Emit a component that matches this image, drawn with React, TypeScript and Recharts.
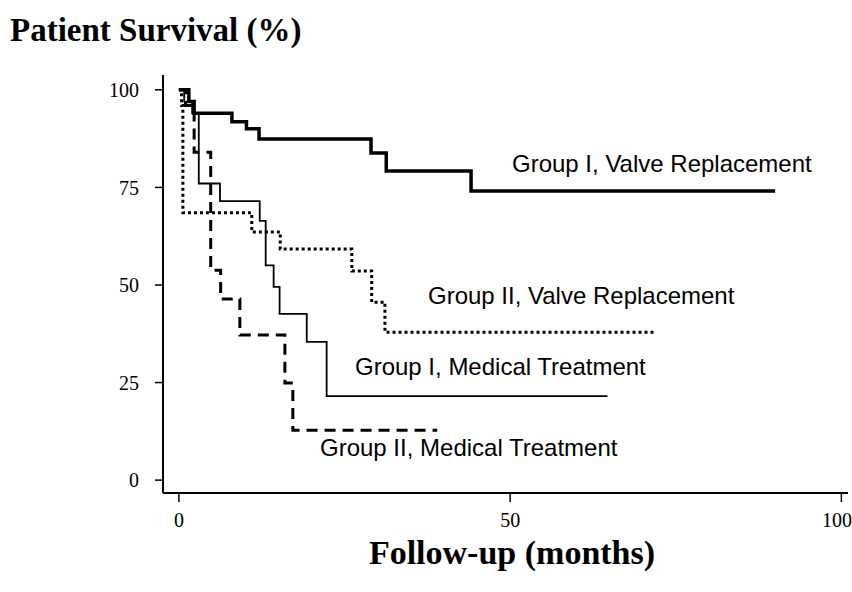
import { Line, LineChart, XAxis, YAxis } from "recharts";

// Kaplan-Meier steps (months, survival %)
const g1ValveMonths = [0, 1.5, 2.3, 8, 10.2, 12.1, 29, 31.3, 44.1, 90];
const g1ValveSurvival = [100, 97, 94, 91.8, 90, 87.4, 83.8, 79.2, 74.1, 74.1];

const g1MedMonths = [0, 0.8, 2, 3, 6.2, 12.2, 13.1, 14.3, 15.2, 19.3, 22.3, 64.7];
const g1MedSurvival = [100, 97, 94, 76, 71.5, 66.4, 55, 49.5, 42.6, 35.4, 21.5, 21.5];

const g2ValveMonths = [0, 0.4, 0.6, 11, 15.3, 26.1, 29.1, 31.1, 71.9];
const g2ValveSurvival = [100, 96, 68.5, 63.6, 59.2, 53.6, 45.6, 37.9, 37.9];

const g2MedMonths = [0, 1, 2.3, 4.8, 6.3, 9.2, 16, 17.2, 39];
const g2MedSurvival = [100, 96, 84, 53.8, 46.4, 37.2, 24.9, 12.8, 12.8];

const xTicks = [0, 50, 100];
const yTicks = [0, 25, 50, 75, 100];

const toRows = (months: number[], survival: number[]) =>
  months.map((m, i) => ({ m, s: survival[i] }));

const series = [
  { key: "g1v", data: toRows(g1ValveMonths, g1ValveSurvival), width: 3.5, dash: undefined },
  { key: "g1m", data: toRows(g1MedMonths, g1MedSurvival), width: 1.8, dash: undefined },
  { key: "g2v", data: toRows(g2ValveMonths, g2ValveSurvival), width: 3, dash: "3 3" },
  { key: "g2m", data: toRows(g2MedMonths, g2MedSurvival), width: 3, dash: "11 7" },
];

const labels = [
  { text: "Group I, Valve Replacement", x: 512, y: 150 },
  { text: "Group II, Valve Replacement", x: 428, y: 282 },
  { text: "Group I, Medical Treatment", x: 355, y: 353 },
  { text: "Group II, Medical Treatment", x: 320, y: 434 },
];

const tickFont = { fontFamily: "'Liberation Serif', serif", fontSize: 20, fill: "#000" };

export default function App() {
  return (
    <div
      style={{
        position: "absolute",
        left: 0,
        top: 0,
        width: 852,
        height: 592,
        background: "#fff",
      }}
    >
      <div
        style={{
          position: "absolute",
          left: 10,
          top: 12,
          fontFamily: "'Liberation Serif', serif",
          fontWeight: 700,
          fontSize: 33,
          whiteSpace: "nowrap",
        }}
      >
        Patient Survival (%)
      </div>

      <LineChart
        width={852}
        height={592}
        margin={{ top: 75, right: 4, bottom: 59, left: 103 }}
      >
        <XAxis
          type="number"
          dataKey="m"
          domain={[-2.4, 101]}
          ticks={xTicks}
          allowDataOverflow
          height={40}
          tickSize={9}
          tickMargin={11}
          tick={tickFont}
          axisLine={{ stroke: "#000", strokeWidth: 2 }}
          tickLine={{ stroke: "#000", strokeWidth: 1.5 }}
        />
        <YAxis
          type="number"
          dataKey="s"
          domain={[-3.3, 103.8]}
          ticks={yTicks}
          allowDataOverflow
          width={60}
          tickSize={8}
          tickMargin={16}
          tick={tickFont}
          axisLine={{ stroke: "#000", strokeWidth: 2 }}
          tickLine={{ stroke: "#000", strokeWidth: 1.5 }}
        />
        {series.map((s) => (
          <Line
            key={s.key}
            data={s.data}
            dataKey="s"
            type="stepAfter"
            stroke="#000"
            strokeWidth={s.width}
            strokeDasharray={s.dash}
            dot={false}
            activeDot={false}
            isAnimationActive={false}
          />
        ))}
      </LineChart>

      {labels.map((l) => (
        <div
          key={l.text}
          style={{
            position: "absolute",
            left: l.x,
            top: l.y,
            fontFamily: "'Liberation Sans', Arial, sans-serif",
            fontSize: 24,
            whiteSpace: "nowrap",
          }}
        >
          {l.text}
        </div>
      ))}

      <div
        style={{
          position: "absolute",
          left: 0,
          width: 1024,
          top: 534,
          textAlign: "center",
          fontFamily: "'Liberation Serif', serif",
          fontWeight: 700,
          fontSize: 34,
          whiteSpace: "nowrap",
        }}
      >
        Follow-up (months)
      </div>
    </div>
  );
}
